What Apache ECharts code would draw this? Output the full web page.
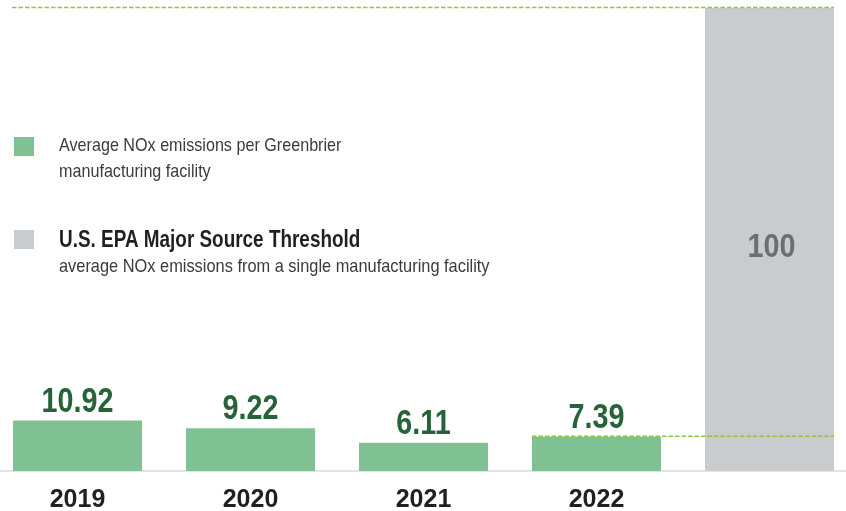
<!DOCTYPE html>
<html>
<head>
<meta charset="utf-8">
<script src="https://cdn.jsdelivr.net/npm/echarts@6/dist/echarts.min.js"></script>
<style>
html,body{margin:0;padding:0;background:#fff;}
#chart{width:846px;height:511px;}
</style>
</head>
<body>
<div id="chart"></div>
<script>
const categories = ['2019', '2020', '2021', '2022', ''];
const values = [10.92, 9.22, 6.11, 7.39, 100];
const valueLabels = ['10.92', '9.22', '6.11', '7.39', '100'];
const barColors = ['#80c194', '#80c194', '#80c194', '#80c194', '#c9cccf'];
// reference lines: [value, start category index, end category index]
const refLines = [[100, 0, 4], [7.39, 3, 4]];
const legendGreen = ['Average NOx emissions per Greenbrier', 'manufacturing facility'];
const legendGreyTitle = 'U.S. EPA Major Source Threshold';
const legendGreySub = 'average NOx emissions from a single manufacturing facility';

const FONT = '"Liberation Sans", Arial, Helvetica, sans-serif';
const GAP = 0.254;
const chart = echarts.init(document.getElementById('chart'));

const barData = values.map((v, i) => ({ value: v, itemStyle: { color: barColors[i] } }));
const labelData = values.map((v, i) => [i, v, valueLabels[i]]);

function txt(x, y, text, size, weight, color, sx) {
  return {
    type: 'text', x: x, y: y, scaleX: sx, scaleY: 1,
    style: { text: text, fill: color, fontSize: size, fontWeight: weight, fontFamily: FONT, align: 'left', verticalAlign: 'top' }
  };
}

chart.setOption({
  animation: false,
  grid: { left: -9, right: -10, top: 8, bottom: 40, outerBoundsMode: 'none' },
  xAxis: {
    type: 'category',
    data: categories,
    axisLine: { show: true, lineStyle: { color: '#e3e3e3', width: 2 } },
    axisTick: { show: false },
    axisLabel: { color: '#231f20', fontSize: 25, fontWeight: 'bold', fontFamily: FONT, margin: 17 }
  },
  yAxis: { type: 'value', min: 0, max: 100, show: false, splitLine: { show: false } },
  graphic: [
    { type: 'rect', left: 14, top: 137, shape: { width: 20, height: 19 }, style: { fill: '#80c194' } },
    txt(59, 136, legendGreen[0], 19, 'normal', '#3b3b3b', 0.85),
    txt(59, 162, legendGreen[1], 19, 'normal', '#3b3b3b', 0.85),
    { type: 'rect', left: 14, top: 230, shape: { width: 20, height: 19 }, style: { fill: '#c9cccf' } },
    txt(59, 229, legendGreyTitle, 23.5, 'bold', '#231f20', 0.805),
    txt(59, 257, legendGreySub, 19, 'normal', '#3b3b3b', 0.862)
  ],
  series: [
    {
      type: 'bar',
      data: barData,
      barCategoryGap: (GAP * 100) + '%',
      z: 2
    },
    {
      type: 'custom',
      data: labelData,
      z: 6,
      renderItem: function (params, api) {
        const i = api.value(0), v = api.value(1);
        const text = valueLabels[params.dataIndex];
        if (i === 4) {
          const p = api.coord([i, v / 2]);
          return {
            type: 'text', x: p[0] + 2, y: p[1] + 8, scaleX: 0.86,
            style: { text: text, fill: '#6d6e71', fontSize: 33.5, fontWeight: 'bold', fontFamily: FONT, align: 'center', verticalAlign: 'middle' }
          };
        }
        const p = api.coord([i, v]);
        return {
          type: 'text', x: p[0], y: p[1] - 1, scaleX: 0.82,
          style: { text: text, fill: '#266338', fontSize: 35, fontWeight: 'bold', fontFamily: FONT, align: 'center', verticalAlign: 'bottom' }
        };
      }
    },
    {
      type: 'custom',
      data: refLines,
      z: 5,
      renderItem: function (params, api) {
        const v = api.value(0), s = api.value(1), e = api.value(2);
        const band = api.size([1, 0])[0];
        const half = band * (1 - GAP) / 2;
        const p1 = api.coord([s, v]);
        const p2 = api.coord([e, v]);
        const left = s === 0 ? p1[0] - half - 1 : p1[0] - half;
        return {
          type: 'line',
          shape: { x1: left, y1: p1[1] - 0.5, x2: p2[0] + half, y2: p2[1] - 0.5 },
          style: { stroke: '#8dc63f', lineWidth: 1.6, lineDash: [4.5, 2] }
        };
      }
    }
  ]
});
</script>
</body>
</html>
